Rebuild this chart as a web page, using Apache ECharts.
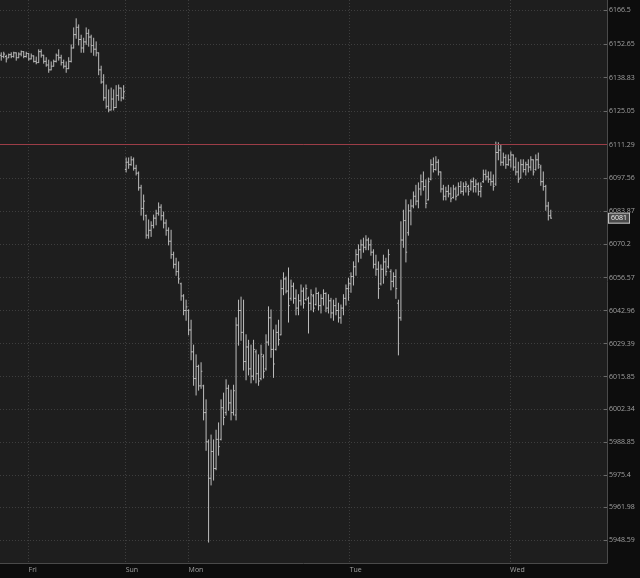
<!DOCTYPE html>
<html><head><meta charset="utf-8">
<script src="https://cdn.jsdelivr.net/npm/echarts@6/dist/echarts.min.js"></script>
<style>html,body{margin:0;padding:0;background:#0d0d0d;}#c{width:640px;height:578px;}</style>
</head><body><div id="c"></div>
<script>
const opens=[
6148,6147.5,6147.5,6147,6148.25,6147.5,6149,6147,6148.5,6149.5,
6147.5,6148.75,6146.5,6147.75,6145.5,6145,6149.5,6148,6145.5,6144,
6142,6143.5,6145.5,6148,6147,6145,6143.5,6142.5,6145.5,6151,
6156.5,6159.5,6154.5,6151,6153.5,6157,6155.5,6152,6150.5,6149,
6142,6137,6130.5,6127,6125.5,6130,6126.5,6131.5,6134.5,6130.5,
6101,6104,6103,6105,6101.5,6099.5,6093.5,6085,6082,6074,
6076,6078,6081,6083,6085.5,6082,6079,6076,6071.5,6066,
6062,6059,6054,6049,6043,6043,6035,6026,6015,6020,
6012,6012,6001,5989,5974,5985,5978,5990,5990,6003,
6001,6011,6005,6001,6000,6037,6043,6034,6022,6028,
6019,6016,6026,6017,6015,6024,6019,6030,6040,6027,
6027,6034,6033,6052,6056,6051,6048,6053,6048,6044,
6047,6051,6047.5,6048,6046,6049,6045.5,6050,6045,6048,
6050,6044,6047,6042,6045,6043,6040,6044,6048,6052,
6054,6057,6061,6066,6068,6070,6069,6072,6070,6067,
6062,6060,6054,6060,6063,6061,6059,6055,6057,6046,
6040,6072,6080,6075,6084,6086,6090,6088,6093,6096,
6094,6088.5,6097,6103,6101,6104,6100,6093,6090,6092,
6091,6089.5,6093,6090.5,6094,6092,6094,6094,6093,6096,
6094,6095,6092,6096,6099,6098,6097,6096,6095,6108,
6109,6104,6106,6103,6105,6107,6102,6100,6097.5,6103,
6101,6103,6102,6105,6101,6105,6102,6096,6094,6086,
6082];
const highs=[
6149,6149.25,6148,6148.5,6149,6149.25,6149,6149,6149.75,6149.5,
6149.25,6148.75,6148.5,6147.75,6147.25,6150.25,6150.25,6148,6147,6146,
6145.25,6146,6148.5,6150.25,6148,6146,6145.25,6147,6152.25,6159.25,
6163,6160.5,6156.25,6155,6159.25,6158.5,6156.25,6155,6153.5,6149,
6143.5,6140,6135.75,6133.75,6134.5,6133.75,6135.5,6135.75,6134.5,6135.5,
6105.75,6105.75,6106.25,6105.75,6102.75,6100,6094.5,6090.5,6082.25,6080.25,
6079.5,6082.25,6084.25,6087.25,6086.5,6083.5,6080.25,6077,6076,6067,
6064.5,6063,6054.25,6049.5,6047.25,6043.25,6039,6028.75,6024.75,6020.5,
6021.5,6012.25,6006.25,5989.75,5991.75,5989.75,5993.75,5996.75,6006.25,6009,
6014.5,6012.25,6010.25,6012.25,6040,6047.25,6048.5,6047.25,6033,6030.75,
6028.75,6030.75,6026.75,6024.75,6028.75,6024.75,6033,6044.5,6043.25,6035,
6037,6039,6055.5,6058.5,6056.75,6060.5,6055.5,6054.25,6051.5,6049.5,
6053.5,6052.25,6053.5,6048.5,6051.5,6049.5,6052.25,6050.5,6049.5,6051.5,
6050.25,6049.5,6048,6047.25,6048,6046,6045.25,6049.5,6053.5,6056.25,
6058.5,6063,6068,6070,6072,6072.75,6073.75,6072.75,6072,6068,
6065.75,6063,6061.75,6065.75,6064.5,6068,6059.75,6058.5,6059.75,6047.25,
6079.5,6084.25,6088.5,6086.5,6088.5,6091.75,6094.5,6095.5,6098.75,6100,
6096.75,6097.5,6105,6105.75,6106.25,6105,6100,6094.5,6093.75,6094.5,
6093.5,6094.5,6093.75,6095.5,6096,6095.5,6096,6094.5,6096.75,6097.5,
6096.75,6095.5,6095.5,6100.75,6100.75,6100,6100,6098.75,6112.25,6112,
6111,6107.75,6107,6107,6108.25,6107,6105.75,6104,6105,6105,
6104,6105,6106.25,6105,6107,6107.75,6102.75,6100,6094.5,6087.5,
6084.25];
const lows=[
6146,6147,6145.25,6147,6147,6147.25,6146,6147,6147.75,6147,
6147.25,6146,6146.5,6145.25,6144.5,6145,6147.25,6144.75,6143.5,6141,
6142,6143.5,6145.25,6146,6144,6142.75,6141,6142.5,6145.25,6151,
6155,6152.25,6149.25,6149.25,6152.5,6151.75,6149.25,6148,6147.75,6140,
6136.5,6129.5,6126.25,6124.75,6125.5,6125.5,6126.5,6129.5,6129.25,6130,
6100,6101.5,6102.75,6100.75,6098.75,6092.5,6082.25,6080.25,6072.75,6072.75,
6073.5,6077,6078.25,6082.25,6080.25,6077,6074,6070,6064.5,6060.5,
6057.5,6054.25,6047.25,6041.25,6039,6033,6022.75,6012.25,6008.25,6010.25,
6011,5998,5985.5,5947.75,5971.25,5973.25,5977.5,5983.5,5989.75,5996,
6000,6002,5998,6000,5998,6028.75,6030.75,6018.5,6014.5,6016.5,
6013.25,6014.5,6013.25,6012.25,6014.5,6015.25,6018.5,6028.75,6023.75,6015.5,
6026.75,6028.75,6033,6049.5,6050.25,6038.25,6047.25,6046,6041.25,6041.25,
6045.25,6044,6047.25,6033.75,6043.25,6042.5,6045.25,6043.25,6042,6045.25,
6042.5,6042,6040,6039,6041.25,6038.25,6037.75,6041.25,6045.25,6047.25,
6050.5,6053.5,6057.5,6063,6064.5,6067,6068,6068,6065.75,6060.5,
6057.5,6048,6053.5,6054.25,6057.5,6060.5,6051.5,6052.75,6048,6024.75,
6039,6069,6063,6074,6078.25,6085.25,6086.5,6085.25,6090.5,6092.5,
6085.25,6088.5,6096.75,6100,6100.75,6098.75,6091.75,6088.5,6088.5,6089.75,
6087.75,6089.25,6088.5,6090.5,6091.25,6090.5,6091.75,6090.5,6092.5,6091.75,
6091.75,6090.5,6089.75,6095.75,6096.75,6095.75,6094.5,6092.5,6094.5,6105,
6102.75,6102.75,6101.5,6102.75,6102,6100.75,6098.75,6095.75,6097.5,6100,
6098.75,6100,6100.75,6098.75,6100.75,6101.5,6094.5,6092.5,6084.25,6080.25,
6081];
const closes=[
6147.5,6148.5,6146.5,6148.25,6147.5,6149,6147,6148.5,6149.5,6147.5,
6148.75,6146.5,6147.75,6145.5,6145,6149.5,6148,6145.5,6144,6142,
6143.5,6145.5,6148,6147,6145,6143.5,6142.5,6145.5,6151,6156.5,
6159.5,6154.5,6151,6153.5,6157,6155.5,6152,6150.5,6149,6142,
6137,6130.5,6127,6125.5,6130,6126.5,6131.5,6134.5,6130.5,6133,
6104,6103,6105,6101.5,6099.5,6093.5,6085,6088,6074,6076,
6078,6081,6083,6085.5,6082,6079,6076,6071.5,6066,6062,
6059,6056,6049,6043,6044.5,6035,6026,6015,6020,6012,
6018,6001,5989,5974,5985,5978,5990,5987,6003,5999,
6011,6005,6001,6010,6037,6043,6034,6022,6028,6019,
6016,6027,6017,6014,6025,6018,6030,6040,6027,6021,
6034,6031,6052,6056,6051,6045,6053,6048,6044,6047,
6051,6046,6052,6046,6049.5,6044,6050,6045,6048,6050,
6044,6047,6042,6045,6043,6040,6044,6048,6052,6054,
6057,6061,6066,6068,6070,6069,6072,6070,6067,6062,
6060,6052,6060,6063,6059,6066,6055,6057,6052,6040,
6072,6080,6067,6084,6086,6090,6088,6093,6096,6094,
6087,6096,6103,6101,6104,6100,6093,6090,6092,6091,
6089,6093,6090,6094,6092,6094,6095,6092,6096,6094,
6095,6092,6094,6099,6098,6097,6096,6094,6108,6109,
6104,6106,6103,6105,6107,6102,6100,6097,6103,6101,
6103,6102,6105,6100,6105,6103,6096,6094,6086,6082,
6081];
const dayLabels=['Fri','Sun','Mon','Tue','Wed'];
const dayTicks=[10.95,49.82,75,139.5,203.7];
const priceTicks=[6166.5,6152.65,6138.83,6125.05,6111.29,6097.56,6083.87,6070.2,6056.57,6042.96,6029.39,6015.85,6002.34,5988.85,5975.4,5961.98,5948.59];
const refLevel=6111.29;
const lastPrice=6081;
const slotCount=243;

const data=opens.map((o,i)=>[i,o,highs[i],lows[i],closes[i]]);
const chart=echarts.init(document.getElementById('c'),null,{renderer:'canvas'});
function renderItem(params,api){
  const x=api.value(0);
  const pH=api.coord([x,api.value(2)]);
  const pL=api.coord([x,api.value(3)]);
  const pO=api.coord([x,api.value(1)]);
  const pC=api.coord([x,api.value(4)]);
  const w=api.size([1,0])[0]*0.5;
  const st={stroke:'#bdbdbd',lineWidth:1};
  return {type:'group',children:[
    {type:'line',shape:{x1:pH[0],y1:pH[1]-0.5,x2:pL[0],y2:pL[1]+0.5},style:st},
    {type:'line',shape:{x1:pO[0]-w,y1:pO[1],x2:pO[0],y2:pO[1]},style:st},
    {type:'line',shape:{x1:pC[0],y1:pC[1],x2:pC[0]+w,y2:pC[1]},style:st}
  ]};
}
const findIdx=(arr,v)=>arr.findIndex(t=>Math.abs(t-v)<1e-6);
chart.setOption({
  backgroundColor:'#0d0d0d',
  animation:false,
  grid:{left:0,right:33,top:0,bottom:15,show:true,backgroundColor:'#1e1e1e',borderWidth:0},
  xAxis:{type:'value',min:-0.5,max:slotCount-0.5,
    axisLine:{show:true,onZero:false,lineStyle:{color:'#4a4a4a'}},
    axisTick:{show:false,customValues:dayTicks},
    axisLabel:{customValues:dayTicks,formatter:v=>{const k=findIdx(dayTicks,v);return k>=0?dayLabels[k]:'';},
      align:'left',color:'#a0a0a0',fontSize:7,margin:3,fontFamily:'Open Sans'},
    splitLine:{show:true,lineStyle:{color:'#3e3e3e',type:[1,2]}}},
  yAxis:{type:'value',position:'right',min:5939.13,max:6170.74,
    axisLine:{show:true,onZero:false,lineStyle:{color:'#4a4a4a'}},
    axisTick:{show:true,inside:true,length:3,customValues:priceTicks,lineStyle:{color:'#6a6a6a'}},
    axisLabel:{customValues:priceTicks,formatter:v=>{const k=findIdx(priceTicks,v);return k>=0?String(priceTicks[k]):'';},
      color:'#a0a0a0',fontSize:7,margin:2,fontFamily:'Open Sans'},
    splitLine:{show:true,lineStyle:{color:'#3e3e3e',type:[1,2]}}},
  series:[{type:'custom',renderItem:renderItem,data:data,encode:{x:0,y:[1,2,3,4]},clip:true,z:3,
    markLine:{silent:true,symbol:['none','none'],animation:false,
      data:[
        {yAxis:refLevel,lineStyle:{color:'#9c3d47',type:'solid',width:1},label:{show:false}},
        {yAxis:lastPrice,lineStyle:{color:'rgba(0,0,0,0)',width:1,type:'solid'},label:{show:true,position:'end',distance:2,formatter:String(lastPrice),
          color:'#f0f0f0',fontSize:7,fontFamily:'Open Sans',backgroundColor:'#4a4a4a',borderColor:'#c0c0c0',borderWidth:1,padding:[1,2]}}
      ]}}]
});
</script></body></html>
